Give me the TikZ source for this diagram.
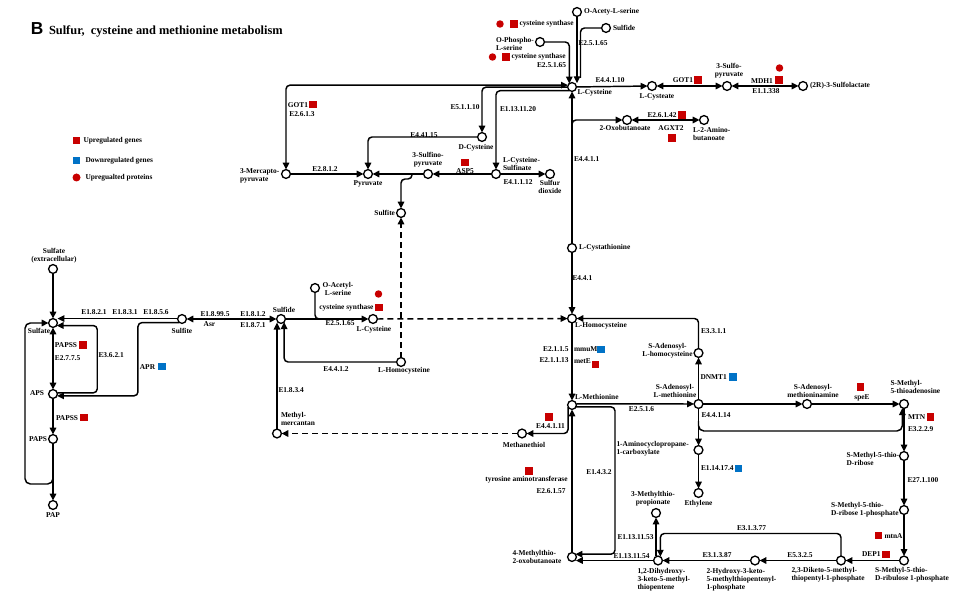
\documentclass[tikz,border=0pt]{standalone}
\usepackage{fontspec}
\setmainfont{Liberation Serif}
\newfontfamily\bfam{Liberation Sans}
\usetikzlibrary{arrows.meta,calc}
\definecolor{upred}{RGB}{200,0,0}
\definecolor{dnblue}{RGB}{0,114,198}
\begin{document}
\begin{tikzpicture}[x=0.75pt,y=-0.75pt,
  every node/.style={inner sep=0pt, outer sep=0pt},
  met/.style={circle,draw,line width=1pt,minimum size=6.6pt,fill=white},
  lab/.style={font=\fontsize{5.55pt}{6pt}\selectfont\bfseries, align=left},
  labc/.style={lab, align=center},
  upsq/.style={fill=upred, minimum size=5.5pt},
  dnsq/.style={fill=dnblue, minimum size=5.5pt},
  prot/.style={circle, fill=upred, minimum size=5.6pt},
  rxn/.style={line width=1.1pt, rounded corners=3pt, -{Triangle[length=5.2pt,width=4.8pt]}},
  rxnb/.style={line width=1.1pt, rounded corners=3pt, {Triangle[length=5.2pt,width=4.8pt]}-{Triangle[length=5.2pt,width=4.8pt]}},
  ln/.style={line width=1.1pt, rounded corners=3pt},
  dsh/.style={rxn, dash pattern=on 4.5pt off 3pt},
]
\useasboundingbox[fill=white] (0,0) rectangle (972,606);

% title
\node[anchor=base west, font=\bfam\fontsize{13pt}{13pt}\selectfont\bfseries] (tB) at (31,34.5) {B};
\node[anchor=base west, font=\fontsize{9.3pt}{10pt}\selectfont\bfseries] (title) at (49,34.8) {Sulfur,\ \ cysteine and methionine metabolism};

% legend
\node[upsq] (lg1) at (76.5,140.5) {};
\node[lab, anchor=west] (lg1t) at (83.5,140.5) {Upregulated genes};
\node[dnsq] (lg2) at (76.5,160.5) {};
\node[lab, anchor=west] (lg2t) at (85.5,160.5) {Downregulated genes};
\node[prot, minimum size=6pt] (lg3) at (76.5,177.5) {};
\node[lab, anchor=west] (lg3t) at (85.5,177.5) {Upregualted proteins};

% metabolites
\node[met] (oacst) at (577,12) {};
\node[met] (sfdt) at (606,28) {};
\node[met] (ophs) at (540,42) {};
\node[met] (lcys) at (572,87) {};
\node[met] (lcyst) at (652,86) {};
\node[met] (sulfpyr) at (727,86) {};
\node[met] (sulfolac) at (803,86) {};
\node[met] (oxob) at (627,120) {};
\node[met] (aminob) at (704,120) {};
\node[met] (dcys) at (482,137) {};
\node[met] (mcp) at (286,174) {};
\node[met] (pyr) at (368,174) {};
\node[met] (sfnpyr) at (428,174) {};
\node[met] (csa) at (496,174) {};
\node[met] (sod) at (550,174) {};
\node[met] (sfitm) at (401,213) {};
\node[met] (cysta) at (572,248) {};
\node[met] (sfex) at (53,269) {};
\node[met] (sfate) at (53,323) {};
\node[met] (sfit) at (182,319) {};
\node[met] (sfd) at (281,319) {};
\node[met] (oas) at (315,288) {};
\node[met] (lcys2) at (373,319) {};
\node[met] (hcy) at (572,318.5) {};
\node[met] (hcy2) at (401,362) {};
\node[met] (aps) at (53,394) {};
\node[met] (paps) at (53,439) {};
\node[met] (pap) at (53,505) {};
\node[met] (mmer) at (277,433.5) {};
\node[met] (sah) at (698.5,353) {};
\node[met] (lmet) at (572,405) {};
\node[met] (sam) at (698.5,404) {};
\node[met] (sama) at (807,404) {};
\node[met] (mta) at (904,404) {};
\node[met] (mtr) at (904,456) {};
\node[met] (acc) at (698.5,450) {};
\node[met] (mth) at (522,433.5) {};
\node[met] (eth) at (698.5,493) {};
\node[met] (mtrp) at (904,510) {};
\node[met] (mtp) at (656,513) {};
\node[met] (mtob) at (572,557) {};
\node[met] (dhk) at (658,560.5) {};
\node[met] (hk) at (755,560.5) {};
\node[met] (dk) at (841,560.5) {};
\node[met] (mtru) at (904,560.5) {};

% top connectors
\coordinate (sj) at (580.5,78);
\draw[ln] (sfdt) -| (sj);
\draw[rxn] (oacst) -- (oacst |- lcys.60);
\draw[rxn] (ophs) -| (lcys.128);
\draw[rxnb] (mcp) |- (lcys.155);
\draw[rxn] (lcys.182) -| (dcys);
\draw[rxn] (lcys.238) -| (csa);
\draw[rxn] (lcys) -- (lcyst);
\draw[rxnb] (lcyst) -- (sulfpyr);
\draw[rxnb] (sulfpyr) -- (sulfolac);
\draw[rxn] (cysta) -- (lcys);
\coordinate (bo) at (572,129);
\draw[rxn] (bo) |- (oxob);
\draw[rxnb] (oxob) -- (aminob);
\draw[rxn] (dcys) -| (pyr);
\draw[rxn] (mcp) -- (pyr);
\draw[rxn] (sfnpyr) -- (pyr);
\draw[rxn] (csa) -- (sfnpyr);
\draw[rxn] (csa) -- (sod);
\coordinate (bs) at (412,174);
\draw[rxn] (bs) -- ++(0,5) -| (sfitm);

% left connectors
\draw[rxn] (sfex) -- (sfate);
\draw[rxn] (sfit.175) -- (sfit.175 -| sfate.east);
\draw[rxnb] (sfit) -- (sfd);
\draw[rxnb] (sfate) -- (aps);
\draw[rxn] (aps.15) -- ++(40,0) |- (sfate.-35);
\draw[rxn] (sfit.235) -- ++(-41.5,0) |- (aps.-25);
\draw[rxn] (aps) -- (paps);
\draw[rxn] (paps) -- (pap);
\coordinate (bl) at (53,471);
\draw[rxn, rounded corners=4pt] (bl) |- ++(-28,13) |- (sfate);

% middle connectors
\draw[rxn] (sfd) -- (lcys2);
\coordinate (oj) at (324,319);
\draw[ln] (oas) |- (oj);
\draw[rxn] (hcy2) -| (sfd.-45);
\draw[rxn] (mmer) -- (mmer |- sfd.-125);
\draw[dsh] (hcy2) -- (sfitm);
\draw[dsh] (lcys2) -- (hcy);
\draw[dsh] (mth) -- (mmer);

% right connectors
\draw[rxn] (cysta) -- (hcy);
\draw[rxn] (hcy) -- (lmet);
\draw[rxn] (sah) |- (hcy);
\draw[rxn] (sam) -- (sah);
\draw[rxn] (lmet.15) -- (sam);
\draw[rxn] (sam) -- (sama);
\draw[rxn] (sama) -- (mta);
\draw[rxn] (sam) -- (acc);
\draw[rxn] (acc) -- (eth);
\coordinate (bm) at (698.5,421);
\draw[rxn, rounded corners=4pt] (bm) -- ++(0,10) -| (mta.-112);
\draw[rxn] (mta) -- (mtr);
\draw[rxn] (mtr) -- (mtrp);
\draw[rxn] (mtrp) -- (mtru);
\draw[rxn] (mtru) -- (dk);
\draw[rxn] (dk) -- (hk);
\draw[rxn] (hk) -- (dhk);
\draw[rxn] (dhk) -- (dhk -| mtob.-28);
\draw[rxn] (dk) -- ++(0,-27) -| (dhk.58);
\draw[rxn] (mtp |- dhk.north) -- (mtp);
\draw[rxn] (lmet.-25) -- ++(39,0) |- (mtob.40);
\draw[rxn] (mtob) -- (lmet);
\draw[rxn] (lmet.205) |- (mth);

% top labels
\node[lab, anchor=west] at (584,12) {O-Acety-L-serine};
\node[lab, anchor=west] at (613,28) {Sulfide};
\node[prot] (pr1) at (500,24) {};
\node[upsq] (up1) at (514,24) {};
\node[lab, anchor=west] at (519.5,24) {cysteine synthase};
\node[lab, anchor=west] at (496,44) {O-Phospho-\\L-serine};
\node[prot] (pr2) at (492.5,57) {};
\node[upsq] (up2) at (506,57) {};
\node[lab, anchor=west] at (511.5,57) {cysteine synthase};
\node[lab, anchor=east] at (566,65.5) {E2.5.1.65};
\node[lab, anchor=west] at (578.5,43) {E2.5.1.65};
\node[lab] at (610,80.5) {E4.4.1.10};
\node[lab, anchor=west] at (577.5,93) {L-Cysteine};
\node[lab] at (657,97) {L-Cysteate};
\node[lab] at (683,80.5) {GOT1};
\node[upsq] (up3) at (698,80) {};
\node[labc] at (729,70.5) {3-Sulfo-\\pyruvate};
\node[lab] at (762,81) {MDH1};
\node[upsq] (up4) at (779,80) {};
\node[prot] (pr3) at (779.5,68) {};
\node[lab] at (766,91) {E1.1.338};
\node[lab, anchor=west] at (810,86) {(2R)-3-Sulfolactate};
\node[lab] at (662,115.5) {E2.6.1.42};
\node[upsq] (up5) at (682,115) {};
\node[lab] at (671,128.5) {AGXT2};
\node[upsq] (up6) at (672,138) {};
\node[lab, anchor=west] at (693,134) {L-2-Amino-\\butanoate};
\node[lab] at (625,128) {2-Oxobutanoate};
\node[lab] at (465,107) {E5.1.1.10};
\node[lab, anchor=west] at (500,109.5) {E1.13.11.20};
\node[lab] at (476,147.5) {D-Cysteine};
\node[lab] at (424,135) {E4.41.15};
\node[lab] at (298,105) {GOT1};
\node[upsq] (up7) at (313,104.5) {};
\node[lab] at (302,114.5) {E2.6.1.3};
\node[lab, anchor=west] at (240,176) {3-Mercapto-\\pyruvate};
\node[lab] at (325,169.5) {E2.8.1.2};
\node[lab] at (368,183.5) {Pyruvate};
\node[labc] at (428,160) {3-Sulfino-\\pyruvate};
\node[upsq] (up8) at (465,162.5) {};
\node[lab] at (465,171) {ASP5};
\node[lab, anchor=west] at (503,163.5) {L-Cysteine-\\Sulfinate};
\node[lab] at (518,182) {E4.1.1.12};
\node[labc] at (550,186.5) {Sulfur\\dioxide};
\node[lab, anchor=east] at (395,213) {Sulfite};
\node[lab, anchor=west] at (574,159.5) {E4.4.1.1};
\node[lab, anchor=west] at (579,248) {L-Cystathionine};
\node[lab, anchor=west] at (572.5,278) {E4.4.1};

% left labels
\node[labc] at (54,255.5) {Sulfate\\(extracellular)};
\node[lab] at (39,331) {Sulfate};
\node[lab] at (94,312) {E1.8.2.1};
\node[lab] at (125,312) {E1.8.3.1};
\node[lab] at (156,312) {E1.8.5.6};
\node[lab] at (182,331) {Sulfite};
\node[lab] at (215,314) {E1.8.99.5};
\node[lab] at (209.5,324.5) {Asr};
\node[lab] at (253,314) {E1.8.1.2};
\node[lab] at (253,325) {E1.8.7.1};
\node[lab] at (284,309.5) {Sulfide};
\node[lab, anchor=west] at (55,345) {PAPSS};
\node[upsq] (up9) at (83,345) {};
\node[lab, anchor=west] at (55,358.5) {E2.7.7.5};
\node[lab, anchor=west] at (98.5,355) {E3.6.2.1};
\node[lab] at (147.5,367) {APR};
\node[dnsq] (dn1) at (162,366.5) {};
\node[lab, anchor=east] at (44,393.5) {APS};
\node[lab, anchor=west] at (56,418) {PAPSS};
\node[upsq] (up10) at (84,417.5) {};
\node[lab, anchor=east] at (47,439) {PAPS};
\node[lab] at (53,515.5) {PAP};

% middle labels
\node[labc] at (338,289) {O-Acetyl-\\L-serine};
\node[prot] (pr4) at (378.5,294) {};
\node[lab, anchor=east] at (373.5,307.5) {cysteine synthase};
\node[upsq] (up11) at (379,307.5) {};
\node[lab] at (340,323.5) {E2.5.1.65};
\node[lab] at (374,329.5) {L-Cysteine};
\node[lab] at (336,369.5) {E4.4.1.2};
\node[lab] at (404,371) {L-Homocysteine};
\node[lab, anchor=west] at (278.5,390) {E1.8.3.4};
\node[lab, anchor=west] at (281,418.5) {Methyl-\\mercantan};

% right labels
\node[lab, anchor=west] at (575,326) {L-Homocysteine};
\node[lab, anchor=east] at (568.5,349) {E2.1.1.5};
\node[lab, anchor=west] at (574,349) {mmuM};
\node[dnsq] (dn2) at (601,349.5) {};
\node[lab, anchor=east] at (568.5,360.5) {E2.1.1.13};
\node[lab, anchor=west] at (574,361.5) {metE};
\node[upsq] (up12) at (595.5,364.5) {};
\node[lab, anchor=west] at (575,396.5) {L-Methionine};
\node[lab] at (641.5,409.5) {E2.5.1.6};
\node[labc] at (675,391) {S-Adenosyl-\\L-methionine};
\node[labc] at (667.5,351) {S-Adenosyl-\\L-homocysteine};
\node[lab, anchor=west] at (701,331) {E3.3.1.1};
\node[lab, anchor=west] at (700.5,377) {DNMT1};
\node[dnsq] (dn3) at (733,377) {};
\node[lab, anchor=west] at (701.5,415) {E4.4.1.14};
\node[labc] at (813,391) {S-Adenosyl-\\methioninamine};
\node[upsq] (up13) at (860.5,387) {};
\node[lab] at (862,397.5) {speE};
\node[lab, anchor=west] at (890.5,387) {S-Methyl-\\5-thioadenosine};
\node[lab, anchor=west] at (908,417.5) {MTN};
\node[upsq] (up14) at (930.5,417) {};
\node[lab, anchor=west] at (908,429) {E3.2.2.9};
\node[lab, anchor=west] at (846.5,458.5) {S-Methyl-5-thio-\\D-ribose};
\node[lab, anchor=west] at (907.5,480) {E27.1.100};
\node[lab, anchor=west] at (831,510) {S-Methyl-5-thio-\\D-ribose 1-phosphate};
\node[upsq] (up15) at (878.5,535.5) {};
\node[lab, anchor=west] at (884.5,536) {mtnA};
\node[lab, anchor=east] at (880.5,554) {DEP1};
\node[upsq] (up16) at (886,554.5) {};
\node[lab, anchor=west] at (875,574.5) {S-Methyl-5-thio-\\D-ribulose 1-phosphate};
\node[lab, anchor=west] at (791.5,575) {2,3-Diketo-5-methyl-\\thiopentyl-1-phosphate};
\node[lab] at (800,555.5) {E5.3.2.5};
\node[lab, anchor=west] at (706.5,580) {2-Hydroxy-3-keto-\\5-methylthiopentenyl-\\1-phosphate};
\node[lab] at (717,555.5) {E3.1.3.87};
\node[lab] at (751.5,528.5) {E3.1.3.77};
\node[lab, anchor=west] at (637.5,580) {1,2-Dihydroxy-\\3-keto-5-methyl-\\thiopentene};
\node[lab, anchor=west] at (613.5,556) {E1.13.11.54};
\node[lab, anchor=west] at (617.5,537) {E1.13.11.53};
\node[labc] at (653,498.5) {3-Methylthio-\\propionate};
\node[lab] at (698.5,503.5) {Ethylene};
\node[lab, anchor=west] at (701,468.5) {E1.14.17.4};
\node[dnsq] (dn4) at (738.5,468.5) {};
\node[lab, anchor=west] at (616.5,448.5) {1-Aminocyclopropane-\\1-carboxylate};
\node[lab] at (599,472) {E1.4.3.2};
\node[lab, anchor=west] at (512.5,557) {4-Methylthio-\\2-oxobutanoate};
\node[lab] at (550.5,426) {E4.4.1.11};
\node[upsq] (up17) at (549,417) {};
\node[lab] at (524,445) {Methanethiol};
\node[upsq] (up18) at (529,471) {};
\node[lab] at (526.5,479.5) {tyrosine aminotransferase};
\node[lab] at (551,491) {E2.6.1.57};
\end{tikzpicture}
\end{document}
